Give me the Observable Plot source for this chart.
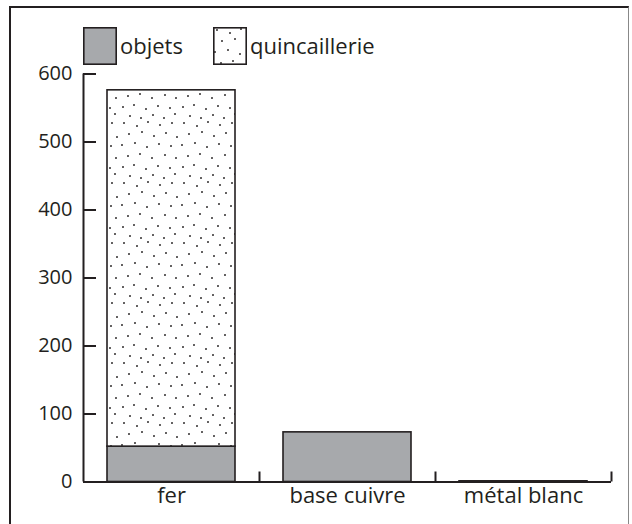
<!DOCTYPE html>
<html>
<head>
<meta charset="utf-8">
<script src="https://cdn.jsdelivr.net/npm/d3@7"></script>
<script src="https://cdn.jsdelivr.net/npm/@observablehq/plot@0.6"></script>
<style>
  html, body { margin: 0; padding: 0; background: #fff; }
  #wrap { position: relative; width: 632px; height: 524px; overflow: hidden; font-family: "Open Sans", sans-serif; color: #231f20; }
  #frame { position: absolute; left: 9px; top: 6px; width: 620px; height: 540px; border-top: 2px solid #231f20; border-left: 2px solid #231f20; border-right: 1px solid #888; box-sizing: border-box; }
  #legend { position: absolute; left: 83px; top: 27px; display: flex; align-items: center; font-size: 22px; }
  .item { display: flex; align-items: center; }
  .item span { margin-left: 3px; line-height: 1; position: relative; top: -1px; }
  #chart { position: absolute; left: 0; top: 0; }
</style>
</head>
<body>
<div id="wrap">
  <div id="chart"></div>
  <div id="frame"></div>
  <div id="legend"></div>
</div>
<script>
const categories = ["fer", "base cuivre", "métal blanc"];
const types = ["objets", "quincaillerie"];
const objets = [52, 73, 1];
const quincaillerie = [524, 0, 0];
const yTicks = [0, 100, 200, 300, 400, 500, 600];

const INK = "#231f20";
const GRAY = "#a7a9ac";

const rows = [];
categories.forEach((c, i) => {
  rows.push({categorie: c, type: "objets", valeur: objets[i]});
  rows.push({categorie: c, type: "quincaillerie", valeur: quincaillerie[i]});
});

const W = 632, H = 524;
const mL = 83, mR = 21, mT = 73.5, mB = 42.5;
const step = (W - mL - mR) / categories.length;

const svg = Plot.plot({
  width: W,
  height: H,
  marginLeft: mL,
  marginRight: mR,
  marginTop: mT,
  marginBottom: mB,
  style: {fontFamily: "'Open Sans', sans-serif", fontSize: "20px", color: INK, background: "transparent"},
  x: {domain: categories, padding: 0, label: null},
  y: {domain: [0, 600], label: null},
  color: {domain: types, range: [GRAY, "url(#dots)"]},
  marks: [
    Plot.barY(rows.filter(d => d.valeur > 0), Plot.stackY({
      x: "categorie", y: "valeur", fill: "type", order: types,
      stroke: INK, strokeWidth: 1.6, insetLeft: 24, insetRight: 24
    })),
    Plot.ruleY([0], {stroke: INK, strokeWidth: 2}),
    Plot.ruleX([categories[0]], {x: d => d, dx: -step / 2, stroke: INK, strokeWidth: 2}),
    Plot.ruleY(yTicks, {y: d => d, stroke: INK, strokeWidth: 2, insetRight: (W - mL - mR) - 13}),
    Plot.ruleX(categories, {x: d => d, dx: step / 2, stroke: INK, strokeWidth: 2, insetTop: (H - mT - mB) - 10}),
    Plot.axisY(yTicks, {tickSize: 0, tickPadding: 11, label: null, fontSize: 20, fill: INK}),
    Plot.axisX({tickSize: 0, tickPadding: 5, label: null, fontSize: 22, fill: INK})
  ]
});

const dotPos = [
  [4,3],[17,6],[28,2],[40,5],[52,3],
  [9,14],[22,12],[34,16],[46,13],[57,17],
  [2,25],[15,23],[27,27],[39,24],[51,26],
  [8,36],[20,34],[32,38],[45,35],[56,38],
  [3,47],[14,45],[26,49],[38,46],[50,48],
  [10,56],[21,58],[33,55],[44,58],[55,54]
];
const defs = `<defs><pattern id="dots" patternUnits="userSpaceOnUse" width="60" height="60">
<rect width="60" height="60" fill="#fff"/>
<g fill="${INK}">${dotPos.map(([x, y]) => `<circle cx="${x}" cy="${y}" r="0.95"/>`).join("")}</g>
</pattern></defs>`;
svg.insertAdjacentHTML("afterbegin", defs);
document.getElementById("chart").appendChild(svg);

const legend = document.getElementById("legend");
const fills = {objets: GRAY, quincaillerie: "url(#dots)"};
types.forEach((t, i) => {
  const item = document.createElement("div");
  item.className = "item";
  item.style.marginRight = i === 0 ? "30px" : "0";
  item.innerHTML = `<svg width="34" height="38"><rect x="0.8" y="0.8" width="32.4" height="36.4" fill="${fills[t]}" stroke="${INK}" stroke-width="1.6"/></svg><span>${t}</span>`;
  legend.appendChild(item);
});
</script>
</body>
</html>
